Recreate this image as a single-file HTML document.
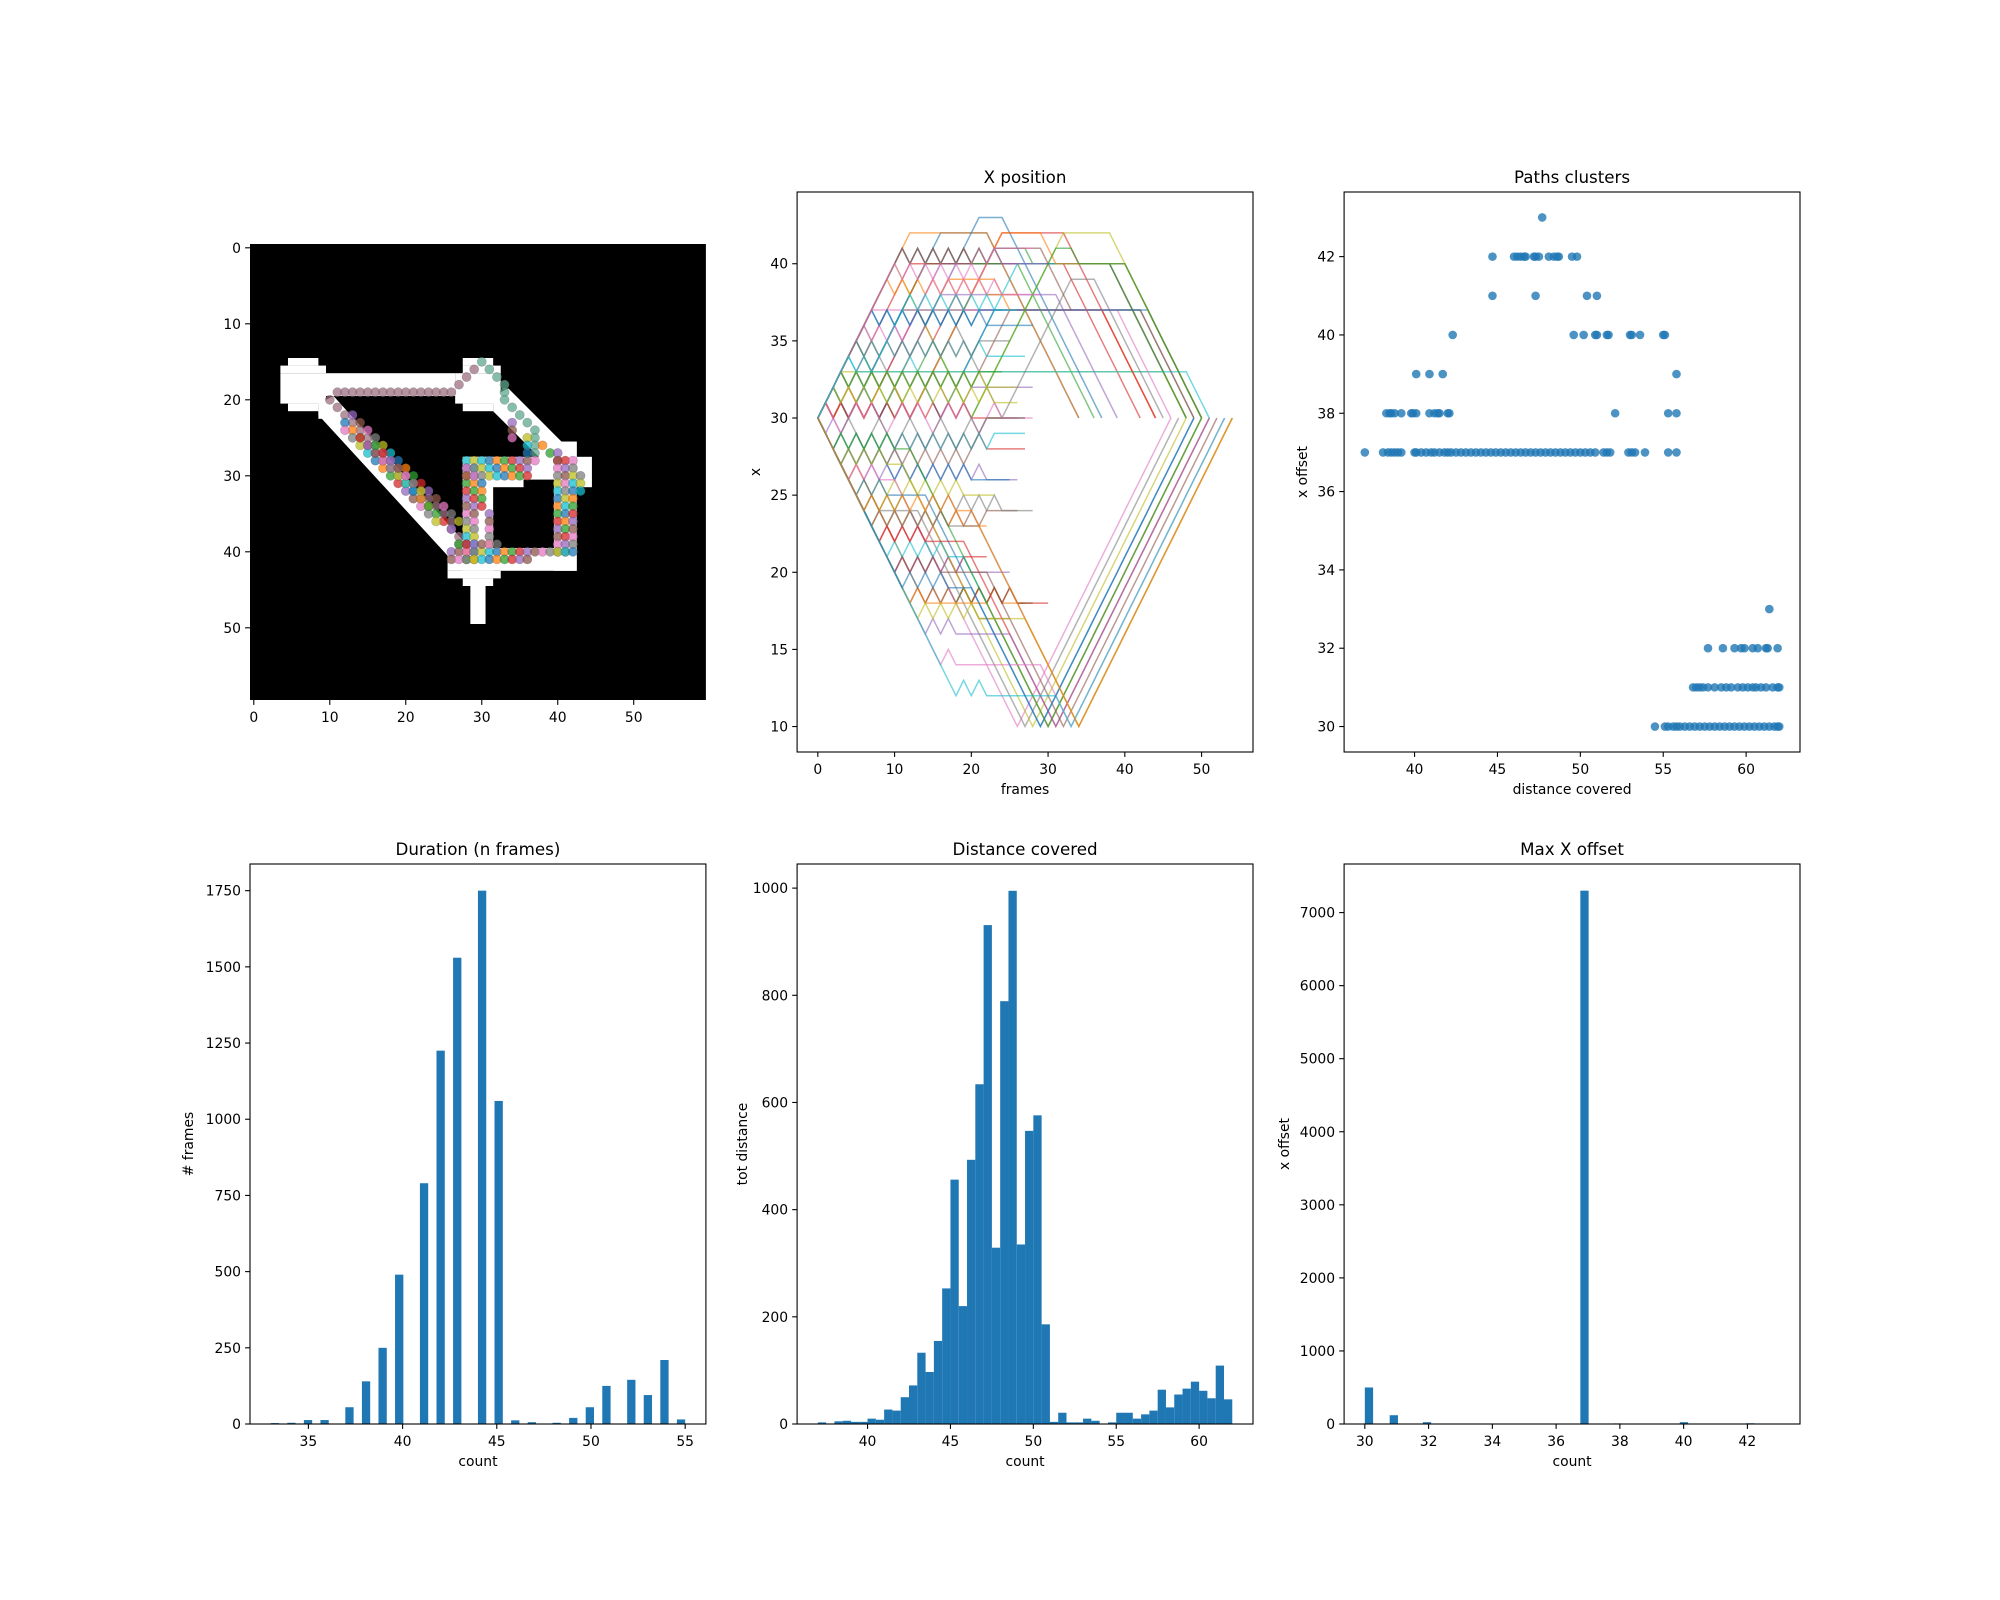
<!DOCTYPE html>
<html><head><meta charset="utf-8"><style>
html,body{margin:0;padding:0;background:#fff;}
svg{display:block;font-family:"DejaVu Sans","Liberation Sans",sans-serif;}
</style></head><body>
<svg id="fig" width="2000" height="1600" viewBox="0 0 2000 1600" xmlns="http://www.w3.org/2000/svg"></svg>
<script>
// ---------- DATA ----------
const mazeRects=[[5,15,9,16],[4,16,10,17],[4,17,27,20],[4,20,10,21],[5,21,9,22],[9,22,10,23],
[28,15,32,16],[28,16,33,17],[27,17,33,21],[28,21,32,22],
[41,26,43,28],[43,28,45,32],[40,26,43,43],[28,28,32,43],[28,28,40,31],[28,31,36,32],
[26,40,43,43],[26,43,33,44],[28,44,32,45],[29,45,31,50]];
const mazePolys=[[[9,21],[11,20],[28,39],[28,41],[26,41],[9,22.5]],[[32,20],[34,19],[41,26],[41,29],[38,28],[32,22]]];
const dotSegs=[[11,19,26,19,10],[10,20,10,20,10],[11,21,25,35,10],[26,36,27,39,10],[27,18,29,16,10],
[30,15,33,18,11],[33,19,33,20,11],[34,21,37,24,11],[37,25,37,27,11],[38,26,40,28,1],
[12,23,26,37,0],[13,22,27,36,4],[12,24,24,36,6],[14,25,23,34,3],[16,26,22,32,2],
[28,28,28,41,9],[29,28,29,41,8],[30,28,37,28,9],[28,29,36,29,6],[28,30,36,30,5],[30,31,31,39,0],
[40,27,40,40,4],[41,28,41,40,3],[42,28,42,39,6],[26,40,42,40,4],[26,41,36,41,5],[27,39,32,39,2],
[34,23,34,25,4],[36,25,36,27,8],[43,30,43,32,7]];
// Panel 2: move strings (u=up, d=down, f=flat, zN=N frames zigzag starting up, yN=starting down)
const pathMoves=["u1 d1 u1 d1 u12 f6 d12","u12 f10 d12","u2 d2 u10 f12 d10","u1 d1 u10 f20 d10","u3 d3 u10 f22 d10",
"u2 d2 u10 f24 d10","u7 f30 d7","u1 d1 u1 d1 u7 f31 d7","u3 f42 d3","u1 d1 u3 f43 d3",
"u1 d1 u1 d1 u1 d1 u1 d1 u13 f3 d13","u1 d1 u1 d1 u1 d1 u1 d1 u9 f6 d2 f12 d7","u2 d2 u2 d2 u2 d2 u11 f4 d1 f10 d10",
"u5 d3 u5 d2 u3 d1 u5 f8 d12","d1 u1 d1 u1 u6 d2 u4 f15 d8","u3 d3 u3 d3 u3 d3 u7 f17 d7",
"u1 d1 u1 d1 u1 d1 u1 d1 u1 d1 u1 d1 u7 f20 d7","u6 d6 u6 d6 u9 f3 d9","u10 d10 u12 f6 d12","u4 d4 u4 d4 u10 f14 d10",
"u2 d2 u2 d2 u2 d2 u2 d2 u7 f20 d7","u1 d1 u2 d2 u3 d3 u12 f5 d2 f9 d10","u5 d5 u5 d5 u11 f2 d1 f6 d10",
"z20 f6","u2 z18 f8","d3 z16 u3 f5","u1 d2 u2 d1 u1 d2 u2 d1 u1 d2 u2 d1 u1 d2 u2 d1 f4","d2 u2 d2 u2 d2 u2 d2 u2 d2 u2 d1 u1 f5",
"u2 z20 f4","u4 z18 f5","u6 z16 f6","u8 z14 f4","u3 y18 f3","d2 z20 f5","d4 z18 f4","d6 y16 f4",
"u5 z6 u3 z10 f5","d3 z8 d3 z10 f4","u1 z22 f3","d1 y22 f4","u7 y14 f3","d7 z12 f3","u10 z10 f4","d9 y10 f3",
"u10 z14 f6","u11 y12 f6 d4","u9 z12 u2 f5","u5 y16 f4","d5 z14 f4","u3 z4 u4 z12 f3","d2 y6 d2 z10 f5",
"d4 z2 d8 z10 f3","d6 z6 d6 z8 f2","d8 z8 d4 z6 f4","d10 z10 f5","d11 y8 d2 f4",
"d4 z4 f2 d16 u20","d6 z2 f5 d14 u20","d3 z6 f2 d17 u20","d9 z8 f2 d11 u20",
"d5 z4 f5 d15 u20","d12 z2 f8 d8 u20","d2 z8 f2 d18 u20","d8 z6 f5 d12 u20",
"d14 z4 f7 d6 u20","d10 z6 f6 d10 u20","d16 z2 f11 d4 u20","d7 z10 f4 d13 u20",
"d13 z8 f6 d7 u20","d18 z4 f9 d2 u20","d11 z6 f3 d9 u20","d6 z12 f2 d14 u20"];
const scY=[37,38,39,40,41,42,43,30,31,32,33];
const scX=[
[37,38.1,38.4,38.6,38.8,39.0,39.2,40,40.1,40.4,40.7,41,41.2,41.5,41.8,42,42.2,42.5,42.8,43.1,43.4,43.7,44,44.3,44.6,44.9,45.2,45.5,45.8,46.1,46.4,46.7,47,47.3,47.6,47.9,48.2,48.5,48.8,49.1,49.4,49.7,50,50.3,50.6,50.9,51.4,51.6,51.8,52.9,53.1,53.3,53.9,55.3,55.8],
[38.3,38.5,38.6,38.8,39.2,39.8,39.9,40.1,40.9,41.2,41.4,41.5,42,42.1,52.1,55.3,55.8],
[40.1,40.9,41.7,55.8],
[42.3,49.6,50.2,50.9,51,51.6,51.7,53,53.1,53.6,55,55.1],
[44.7,47.3,50.4,51],
[44.7,46,46.2,46.4,46.6,46.7,47.2,47.3,47.5,48.1,48.4,48.6,48.7,49.5,49.8],
[47.7],
[54.5,55.1,55.3,55.6,55.8,56,56.3,56.6,56.9,57.2,57.5,57.8,58.1,58.4,58.7,59,59.3,59.6,59.9,60.2,60.5,60.8,61.1,61.4,61.7,61.9,62],
[56.8,57,57.2,57.4,57.7,58.1,58.5,58.8,59.1,59.5,59.8,60.1,60.4,60.6,60.9,61.2,61.6,61.9,62],
[57.7,58.6,59.3,59.7,59.9,60.4,60.7,61.2,61.3,61.9],
[61.4]];
const durVals=[33,34,35,36,37,38,39,40,41,42,43,44,45,46,47,48,49,50,51,52,53,54,55];
const durCounts=[3,4,13,13,55,140,250,490,790,1225,1530,1750,1060,12,6,4,20,55,125,145,95,210,15];
const durTicks=[35,40,45,50,55];
const durYTicks=[0,250,500,750,1000,1250,1500,1750];
const distCounts=[3,0,5,6,4,4,10,8,27,25,50,72,133,97,155,253,456,220,493,634,931,329,789,995,335,547,576,186,4,21,3,3,10,6,0,3,21,21,10,18,25,64,31,55,66,79,62,48,109,46];
const distTicks=[40,45,50,55,60];
const distYTicks=[0,200,400,600,800,1000];
const offVals=[30,31,32,37,38,40,42];
const offCounts=[500,120,25,7300,8,25,10];
const offTicks=[30,32,34,36,38,40,42];
const offYTicks=[0,1000,2000,3000,4000,5000,6000,7000];

// ---------- DRAW ----------
const NS="http://www.w3.org/2000/svg";
const svg=document.getElementById('fig');
function el(tag,attrs,parent){const e=document.createElementNS(NS,tag);for(const k in attrs)e.setAttribute(k,attrs[k]);(parent||svg).appendChild(e);return e;}
const tab=['#1f77b4','#ff7f0e','#2ca02c','#d62728','#9467bd','#8c564b','#e377c2','#7f7f7f','#bcbd22','#17becf','#9c6f80','#5fa88d'];
const TF=13.9;
function linmap(d0,d1,p0,p1){return v=>p0+(v-d0)/(d1-d0)*(p1-p0);}
function frame(x0,y0,x1,y1,name){const r=el('rect',{x:x0,y:y0,width:x1-x0,height:y1-y0,fill:'none',stroke:'#000','stroke-width':1.1});

}
function xticks(ticks,sx,y,name){ticks.forEach(t=>{const x=sx(t);el('line',{x1:x,y1:y,x2:x,y2:y+4.9,stroke:'#000','stroke-width':1.1});
const tx=el('text',{x:x,y:y+22,'font-size':TF,'text-anchor':'middle',fill:'#000'});tx.textContent=t;

});}
function yticks(ticks,sy,x,name){ticks.forEach(t=>{const y=sy(t);el('line',{x1:x,y1:y,x2:x-4.9,y2:y,stroke:'#000','stroke-width':1.1});
const tx=el('text',{x:x-9,y:y+5,'font-size':TF,'text-anchor':'end',fill:'#000'});tx.textContent=t;

});}
function label(txt,x,y,rot,size,name){const t=el('text',{x:x,y:y,'font-size':size,'text-anchor':'middle',fill:'#000'});
if(rot)t.setAttribute('transform','rotate(-90 '+x+' '+y+')');t.textContent=txt;

}

const C=[[250,705.9],[797.1,1253],[1344.1,1800]];
const R=[[192,752],[864,1424]];

(function(){const x0=250,x1=705.9,y0=244,y1=700;const sc=linmap(0,60,x0,x1),sr=linmap(0,60,y0,y1);
const bg=el('rect',{x:x0,y:y0,width:x1-x0,height:y1-y0,fill:'#000'});


mazeRects.forEach(r=>{el('rect',{x:sc(r[0]),y:sr(r[1]),width:sc(r[2])-sc(r[0]),height:sr(r[3])-sr(r[1]),fill:'#fff'});});
mazePolys.forEach(p=>{el('polygon',{points:p.map(q=>sc(q[0])+','+sr(q[1])).join(' '),fill:'#fff'});});
dotSegs.forEach(s=>{const n=Math.max(Math.abs(s[2]-s[0]),Math.abs(s[3]-s[1]));for(let i=0;i<=n;i++){const c=n?s[0]+(s[2]-s[0])*i/n:s[0],r=n?s[1]+(s[3]-s[1])*i/n:s[1];
const col=s[4]>=10?tab[s[4]]:tab[(s[4]+i)%10];
const d=el('circle',{cx:sc(Math.round(c)+0.5),cy:sr(Math.round(r)+0.5),r:4.6,fill:col,'fill-opacity':0.75,stroke:'#444','stroke-opacity':0.3,'stroke-width':0.6});

}});
const ax=linmap(-0.5,59.5,x0,x1),ay=linmap(-0.5,59.5,y0,y1);
xticks([0,10,20,30,40,50],ax,y1,'image-x');yticks([0,10,20,30,40,50],ay,x0,'image-y');
})();

(function(){const [x0,x1]=C[1],[y0,y1]=R[0];const sx=linmap(-2.7,56.7,x0,x1),sy=linmap(8.35,44.65,y1,y0);
const cp=el('clipPath',{id:'clip2'});el('rect',{x:x0,y:y0,width:x1-x0,height:y1-y0},cp);
const g=el('g',{'clip-path':'url(#clip2)'});
pathMoves.forEach((m,i)=>{let f=0,v=30;const pts=[[f,v]];m.split(' ').forEach(tk=>{const n=+tk.slice(1);const t=tk[0];for(let k=0;k<n;k++){f++;
if(t==='u')v++;else if(t==='d')v--;else if(t==='z')v+=(k%2===0?1:-1);else if(t==='y')v+=(k%2===0?-1:1);pts.push([f,v]);}});
const p=el('polyline',{points:pts.map(q=>sx(q[0]).toFixed(1)+','+sy(q[1]).toFixed(1)).join(' '),fill:'none',stroke:tab[i%10],'stroke-opacity':0.6,'stroke-width':1.5},g);

});
frame(x0,y0,x1,y1,'x-position-axes');xticks([0,10,20,30,40,50],sx,y1,'frames');yticks([10,15,20,25,30,35,40],sy,x0,'x');
label('X position',(x0+x1)/2,y0-9,false,16.7,'x-position-title');label('frames',(x0+x1)/2,y1+42,false,TF,'x-axis-title-frames');label('x',x0-37,(y0+y1)/2,true,TF,'y-axis-title-x');})();

(function(){const [x0,x1]=C[2],[y0,y1]=R[0];const sx=linmap(35.75,63.25,x0,x1),sy=linmap(29.35,43.65,y1,y0);
scY.forEach((yv,i)=>scX[i].forEach(xv=>{const c=el('circle',{cx:sx(xv),cy:sy(yv),r:4.3,fill:'#1f77b4','fill-opacity':0.8});

}));
frame(x0,y0,x1,y1,'paths-clusters-axes');xticks([40,45,50,55,60],sx,y1,'distance');yticks([30,32,34,36,38,40,42],sy,x0,'offset');
label('Paths clusters',(x0+x1)/2,y0-9,false,16.7,'paths-clusters-title');label('distance covered',(x0+x1)/2,y1+42,false,TF,'x-axis-title-distance');label('x offset',x0-37,(y0+y1)/2,true,TF,'y-axis-title-x-offset');})();

function hist(col,lo,hi,lefts,w,counts,ymax,xt,yt,title,ylab,name,ylx){const [x0,x1]=C[col],[y0,y1]=R[1];const m=(hi-lo)*0.05;
const sx=linmap(lo-m,hi+m,x0,x1),sy=linmap(0,ymax,y1,y0);
counts.forEach((c,i)=>{if(!c)return;const b=el('rect',{x:sx(lefts[i]),y:sy(c),width:sx(lefts[i]+w)-sx(lefts[i]),height:y1-sy(c),fill:'#1f77b4'});

});
frame(x0,y0,x1,y1,name+'-axes');xticks(xt,sx,y1,name+'-x');yticks(yt,sy,x0,name+'-y');
label(title,(x0+x1)/2,y0-9,false,16.7,name+'-title');label('count',(x0+x1)/2,y1+42,false,TF,name+'-x-axis-title');label(ylab,x0-ylx,(y0+y1)/2,true,TF,name+'-y-axis-title');}
const bw4=22/50;const durL=durVals.map(v=>Math.min(33+Math.floor((v-33)/bw4+1e-9)*bw4,55-bw4));
hist(0,33,55,durL,bw4,durCounts,1837.5,durTicks,durYTicks,'Duration (n frames)','# frames','duration',57);
const distL=distCounts.map((c,i)=>37+i*0.5);
hist(1,37,62,distL,0.5,distCounts,1045,distTicks,distYTicks,'Distance covered','tot distance','distance',50);
const bw6=13/50;const offL=offVals.map(v=>30+Math.floor((v-30)/bw6+1e-9)*bw6);
hist(2,30,43,offL,bw6,offCounts,7665,offTicks,offYTicks,'Max X offset','x offset','max-offset',55);
</script>
</body></html>
